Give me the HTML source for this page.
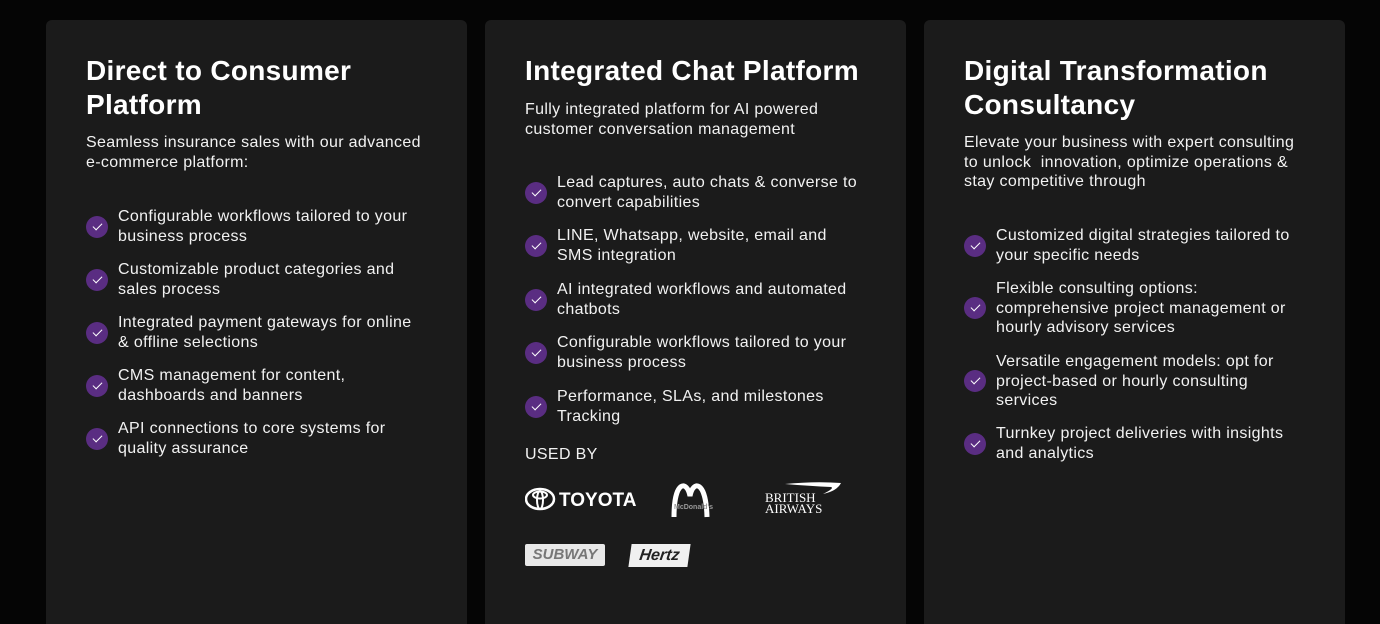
<!DOCTYPE html>
<html><head><meta charset="utf-8"><style>
*{margin:0;padding:0;box-sizing:border-box}
html,body{width:1380px;height:624px}
body{background:#050505;position:relative;overflow:hidden;font-family:"Liberation Sans",sans-serif;color:#f2f2f2}
.card{position:absolute;top:20px;width:421px;height:604px;background:#1b1b1b;border-radius:6px 6px 0 0}
.t{position:absolute;left:40px;font-size:28px;font-weight:bold;line-height:34px;white-space:nowrap;color:#fff;letter-spacing:0.3px}
.d{position:absolute;left:40px;font-size:16px;line-height:19.5px;white-space:nowrap;letter-spacing:0.35px}
.i{position:absolute;left:40px;font-size:16px;line-height:19.5px;white-space:nowrap;letter-spacing:0.35px;padding-left:32px;display:flex;align-items:center}
.i::before{content:"";position:absolute;left:0;top:50%;margin-top:-11px;width:22px;height:22px;border-radius:50%;background:#5a2d82}
.i::after{content:"";position:absolute;left:7px;top:50%;margin-top:-4px;width:8px;height:4px;border-left:1.5px solid #fff;border-bottom:1.5px solid #fff;transform:rotate(-45deg)}
</style></head><body>
<div class="card" style="left:46px">
<div class="t" style="top:34px">Direct to Consumer<br>Platform</div>
<div class="d" style="top:113px">Seamless insurance sales with our advanced<br>e-commerce platform:</div>
<div class="i" style="top:187px">Configurable workflows tailored to your<br>business process</div>
<div class="i" style="top:240px">Customizable product categories and<br>sales process</div>
<div class="i" style="top:293px">Integrated payment gateways for online<br>&amp; offline selections</div>
<div class="i" style="top:346px">CMS management for content,<br>dashboards and banners</div>
<div class="i" style="top:399px">API connections to core systems for<br>quality assurance</div>
</div>
<div class="card" style="left:485px">
<div class="t" style="top:34px">Integrated Chat Platform</div>
<div class="d" style="top:80px">Fully integrated platform for AI powered<br>customer conversation management</div>
<div class="i" style="top:153px">Lead captures, auto chats &amp; converse to<br>convert capabilities</div>
<div class="i" style="top:206px">LINE, Whatsapp, website, email and<br>SMS integration</div>
<div class="i" style="top:260px">AI integrated workflows and automated<br>chatbots</div>
<div class="i" style="top:313px">Configurable workflows tailored to your<br>business process</div>
<div class="i" style="top:367px">Performance, SLAs, and milestones<br>Tracking</div>
<div class="d" style="top:425px">USED BY</div>
<svg style="position:absolute;left:40px;top:467px" width="115" height="26"><ellipse cx="15" cy="12" rx="14" ry="10" fill="none" stroke="#fff" stroke-width="2.5"/><ellipse cx="15" cy="8" rx="7" ry="3.5" fill="none" stroke="#fff" stroke-width="2"/><ellipse cx="15" cy="13" rx="3" ry="9" fill="none" stroke="#fff" stroke-width="2"/><text x="34" y="19" font-family="Liberation Sans" font-weight="bold" font-size="19" fill="#fff">TOYOTA</text></svg>
<svg style="position:absolute;left:185px;top:460px" width="55" height="38"><path d="M4 37 C4 0 17 0 20 16 C23 0 36 0 37 37" fill="none" stroke="#fff" stroke-width="5"/><text x="4" y="29" font-size="7" font-family="Liberation Sans" font-weight="bold" fill="#999">McDonald's</text></svg>
<svg style="position:absolute;left:280px;top:460px" width="80" height="36"><path d="M20 4 Q50 1 76 3 Q72 11 58 14 Q70 8 66 7 Q45 6 20 4Z" fill="#fff"/><text x="0" y="22" font-family="Liberation Serif" font-size="13" fill="#fff">BRITISH</text><text x="0" y="33" font-family="Liberation Serif" font-size="13" fill="#fff">AIRWAYS</text></svg>
<div style="position:absolute;left:40px;top:524px;width:80px;height:22px;background:#e8e8e8;border-radius:2px;color:#777;font-weight:bold;font-style:italic;font-size:15px;line-height:22px;text-align:center">SUBWAY</div>
<div style="position:absolute;left:145px;top:524px;width:59px;height:23px;background:#f0f0f0;transform:skewX(-8deg);color:#222;font-weight:bold;font-style:italic;font-size:16px;line-height:23px;text-align:center">Hertz</div>
</div>
<div class="card" style="left:924px">
<div class="t" style="top:34px">Digital Transformation<br>Consultancy</div>
<div class="d" style="top:113px">Elevate your business with expert consulting<br>to unlock&nbsp; innovation, optimize operations &amp;<br>stay competitive through</div>
<div class="i" style="top:206px">Customized digital strategies tailored to<br>your specific needs</div>
<div class="i" style="top:259px">Flexible consulting options:<br>comprehensive project management or<br>hourly advisory services</div>
<div class="i" style="top:332px">Versatile engagement models: opt for<br>project-based or hourly consulting<br>services</div>
<div class="i" style="top:404px">Turnkey project deliveries with insights<br>and analytics</div>
</div>
</body></html>
